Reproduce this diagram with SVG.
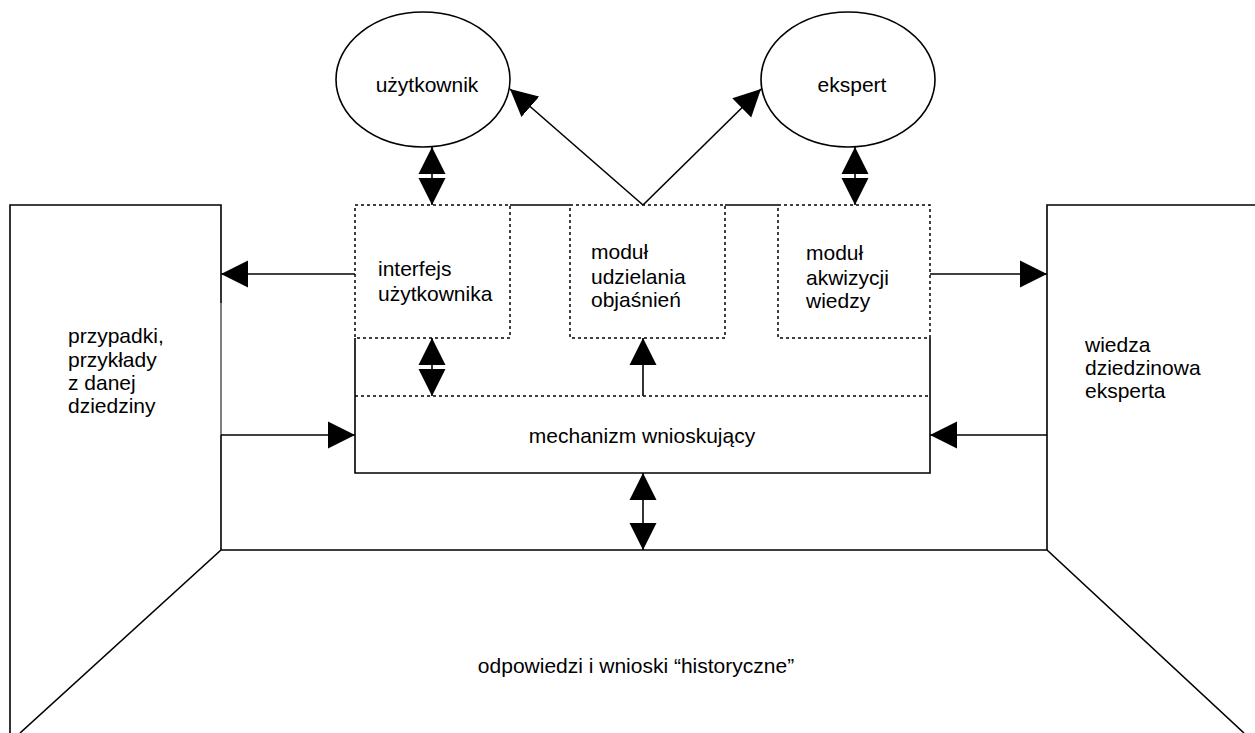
<svg xmlns="http://www.w3.org/2000/svg" width="1255" height="733" viewBox="0 0 1255 733">
<defs>
<marker id="ah" markerUnits="userSpaceOnUse" markerWidth="28" markerHeight="28" refX="27" refY="13.5" orient="auto-start-reverse" viewBox="0 0 28 27">
<path d="M0,0 L27,13.5 L0,27 z" fill="#000"/>
</marker>
<style>
.s{fill:none;stroke:#000;stroke-width:1.6}
.d{fill:none;stroke:#000;stroke-width:1.5;stroke-dasharray:3 3}
.t{font-family:"Liberation Sans",Arial,sans-serif;font-size:21px;fill:#000}
.c{stroke:#000;stroke-width:1.6;fill:none}
</style>
</defs>
<rect width="1255" height="733" fill="#fff"/>

<g id="panel-left">
<polyline class="s" points="10,733 10,205 221,205 221,303"/>
<line x1="221" y1="303" x2="221" y2="435" stroke="#000" stroke-width="1"/>
<line class="s" x1="221" y1="435" x2="221" y2="550"/>
<text class="t" x="68" y="343">przypadki,</text>
<text class="t" x="68" y="367">przykłady</text>
<text class="t" x="68" y="390">z danej</text>
<text class="t" x="68" y="413">dziedziny</text>
</g>

<g id="panel-right">
<polyline class="s" points="1047,550 1047,205 1255,205"/>
<text class="t" x="1085" y="352">wiedza</text>
<text class="t" x="1085" y="375">dziedzinowa</text>
<text class="t" x="1085" y="398">eksperta</text>
</g>

<g id="panel-bottom">
<polyline class="s" points="20,733 221,550 1047,550 1244,733"/>
<text class="t" x="636" y="673" text-anchor="middle">odpowiedzi i wnioski “historyczne”</text>
</g>

<g id="main-box">
<line class="s" x1="510" y1="205" x2="570" y2="205"/>
<line class="s" x1="725" y1="205" x2="778" y2="205"/>
<polyline class="s" points="355,338 355,473 930,473 930,338"/>
</g>

<g id="interfejs">
<rect class="d" x="355" y="205" width="155" height="133"/>
<text class="t" x="378" y="276">interfejs</text>
<text class="t" x="378" y="301">użytkownika</text>
</g>

<g id="modul-objasnien">
<rect class="d" x="570" y="205" width="155" height="133"/>
<text class="t" x="591" y="259">moduł</text>
<text class="t" x="591" y="284">udzielania</text>
<text class="t" x="591" y="307">objaśnień</text>
</g>

<g id="modul-akwizycji">
<rect class="d" x="778" y="205" width="152" height="133"/>
<text class="t" x="806" y="260">moduł</text>
<text class="t" x="806" y="285">akwizycji</text>
<text class="t" x="806" y="308">wiedzy</text>
</g>

<g id="mechanizm">
<line class="d" x1="355" y1="396" x2="930" y2="396"/>
<text class="t" x="642" y="443" text-anchor="middle">mechanizm wnioskujący</text>
</g>

<g id="uzytkownik">
<ellipse class="s" cx="423" cy="79.5" rx="87" ry="67.5"/>
<text class="t" x="427" y="92" text-anchor="middle">użytkownik</text>
</g>

<g id="ekspert">
<ellipse class="s" cx="848" cy="79.5" rx="87" ry="67.5"/>
<text class="t" x="852" y="92" text-anchor="middle">ekspert</text>
</g>

<g id="connectors">
<line class="c" x1="432" y1="147" x2="432" y2="205" marker-start="url(#ah)" marker-end="url(#ah)"/>
<line class="c" x1="855" y1="147" x2="855" y2="205" marker-start="url(#ah)" marker-end="url(#ah)"/>
<line class="c" x1="643" y1="205" x2="510" y2="89" marker-end="url(#ah)"/>
<line class="c" x1="643" y1="205" x2="761" y2="89" marker-end="url(#ah)"/>
<line class="c" x1="355" y1="274" x2="221" y2="274" marker-end="url(#ah)"/>
<line class="c" x1="221" y1="435" x2="355" y2="435" marker-end="url(#ah)"/>
<line class="c" x1="930" y1="274" x2="1047" y2="274" marker-end="url(#ah)"/>
<line class="c" x1="1047" y1="435" x2="930" y2="435" marker-end="url(#ah)"/>
<line class="c" x1="643" y1="396" x2="643" y2="338" marker-end="url(#ah)"/>
<line class="c" x1="432" y1="338" x2="432" y2="396" marker-start="url(#ah)" marker-end="url(#ah)"/>
<line class="c" x1="643" y1="473" x2="643" y2="550" marker-start="url(#ah)" marker-end="url(#ah)"/>
</g>
</svg>
